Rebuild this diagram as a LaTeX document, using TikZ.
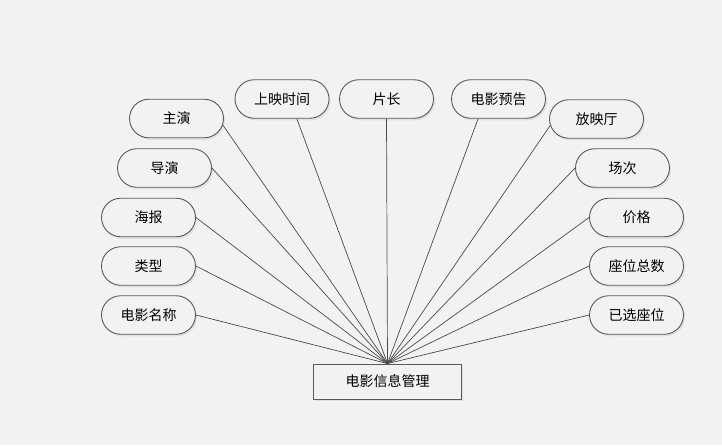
\documentclass[tikz,border=0pt]{standalone}
\usepackage{fontspec}
\usepackage{tikz}
\usetikzlibrary{positioning,shapes.misc,shadows}
\newfontfamily\cjkfont{Noto Sans CJK SC}
\definecolor{filmbg}{HTML}{F2F2F2}
\definecolor{filmline}{HTML}{4A4A4A}
\definecolor{filmedge}{HTML}{5A5A5A}

\begin{document}
\begin{tikzpicture}[
  x=1pt, y=-1pt,
  attr/.style={rounded rectangle, draw=filmedge, fill=filmbg, line width=0.9pt,
    minimum width=96pt, minimum height=38.5pt, inner sep=1pt, font=\cjkfont\fontsize{14}{16}\selectfont,
    drop shadow={shadow xshift=1.5pt, shadow yshift=-2pt, fill=black, opacity=0.07}},
  entity/.style={rectangle, draw=filmedge, fill=filmbg, line width=0.9pt,
    minimum width=148pt, minimum height=35pt, inner sep=1pt, font=\cjkfont\fontsize{14}{16}\selectfont,
    drop shadow={shadow xshift=1.5pt, shadow yshift=-2pt, fill=black, opacity=0.07}},
  link/.style={draw=filmline, line width=0.7pt}
]
\fill[filmbg] (0,0) rectangle (722,445);
\useasboundingbox (0,0) rectangle (722,445);

% entity
\node[entity] (film) at (387.5,381.5) {电影信息管理};

% left side
\node[attr] (actor) at (176.5,118.5) {主演};
\node[attr] (director) at (164.5,168) {导演};
\node[attr] (poster) at (148.5,217.5) {海报};
\node[attr] (genre) at (148.5,266) {类型};
\node[attr] (title) at (148.5,315) {电影名称};

% top row
\node[attr] (showtime) at (282,99) {上映时间};
\node[attr] (length) at (386.5,99) {片长};
\node[attr] (trailer) at (498.5,99) {电影预告};

% right side
\node[attr] (hall) at (596.5,119) {放映厅};
\node[attr] (session) at (622.5,168) {场次};
\node[attr] (price) at (636.5,217.5) {价格};
\node[attr] (seats) at (636.5,266) {座位总数};
\node[attr] (chosen) at (636.5,315) {已选座位};

% links
\draw[link] (actor.-8) -- (film.north);
\draw[link] (director.east) -- (film.north);
\draw[link] (poster.east) -- (film.north);
\draw[link] (genre.east) -- (film.north);
\draw[link] (title.east) -- (film.north);
\draw[link] (showtime.-53) -- (film.north);
\draw[link] (length.south) -- (film.north);
\draw[link] (trailer.-136) -- (film.north);
\draw[link] (hall.188) -- (film.north);
\draw[link] (session.west) -- (film.north);
\draw[link] (price.west) -- (film.north);
\draw[link] (seats.west) -- (film.north);
\draw[link] (chosen.west) -- (film.north);
\end{tikzpicture}
\end{document}
